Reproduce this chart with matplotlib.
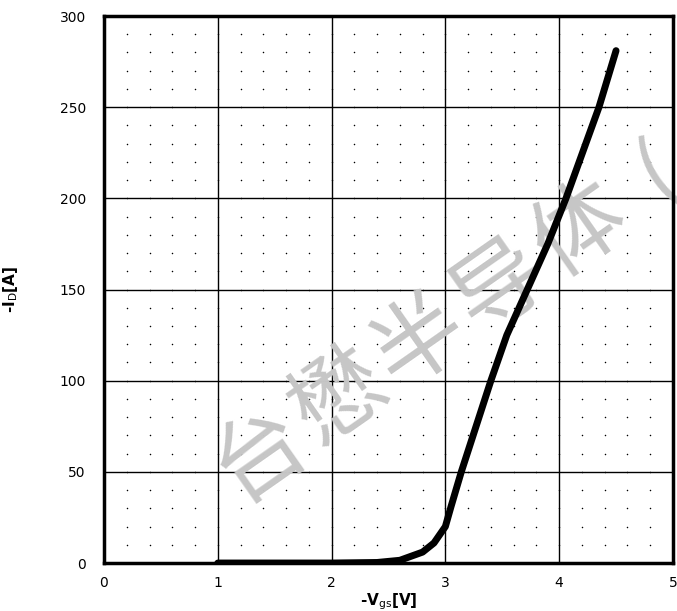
import matplotlib
matplotlib.use("Agg")
import matplotlib.pyplot as plt
import numpy as np

# 전달 특성 곡선 데이터
vgs = [1.0, 2.0, 2.4, 2.6, 2.8, 2.9, 3.0, 3.05, 3.14, 3.27, 3.40, 3.54, 3.72, 3.90, 4.06, 4.35, 4.50]
id_a = [0, 0, 0.3, 1.5, 6, 11, 20, 31, 50, 75, 100, 125, 150, 175, 200, 250, 281]

x_ticks = [0, 1, 2, 3, 4, 5]
y_ticks = [0, 50, 100, 150, 200, 250, 300]

watermark = "台懋半导体("

fig = plt.figure(figsize=(6.77, 6.11), dpi=100)
ax = fig.add_axes([0.1536, 0.0785, 0.8404, 0.8953])

ax.set_xlim(0, 5)
ax.set_ylim(0, 300)
ax.set_xticks(x_ticks)
ax.set_yticks(y_ticks)
ax.tick_params(length=0, labelsize=10)
ax.tick_params(axis="x", pad=9)
ax.tick_params(axis="y", pad=13)

# 주 격자
ax.grid(True, color="black", linewidth=1.0)
ax.set_axisbelow(True)

# 보조 격자 점
mx = np.arange(0, 5.001, 0.2)
my = np.arange(0, 300.1, 10)
gx, gy = np.meshgrid(mx, my)
ax.scatter(gx.ravel(), gy.ravel(), s=1.2, color="black", linewidths=0, zorder=1)

for s in ax.spines.values():
    s.set_linewidth(2.5)

ax.plot(vgs, id_a, color="black", linewidth=5, solid_capstyle="round",
        solid_joinstyle="round", zorder=3)

ax.set_xlabel(r"-$\mathbf{V}_{\mathrm{gs}}$[V]", fontsize=11, fontweight="bold")
ax.set_ylabel(r"-$\mathbf{I}_{\mathrm{D}}$[A]", fontsize=11, fontweight="bold")
ax.xaxis.set_label_coords(0.5, -0.052)
ax.yaxis.set_label_coords(-0.148, 0.5)

# 워터마크: 글자 간격이 넓어서 한 글자씩 배치
x0, y0 = 0.384, 0.2553
dx, dy = 0.1182, 0.0917
for i, ch in enumerate(watermark):
    ax.text(x0 + i * dx, y0 + i * dy, ch, fontsize=66, color="#c6c6c6",
            family=["Noto Sans CJK SC", "DejaVu Sans"], rotation=35,
            ha="center", va="center", rotation_mode="anchor", zorder=2,
            transform=fig.transFigure, clip_on=False)

fig.savefig("out.png", dpi=100)
